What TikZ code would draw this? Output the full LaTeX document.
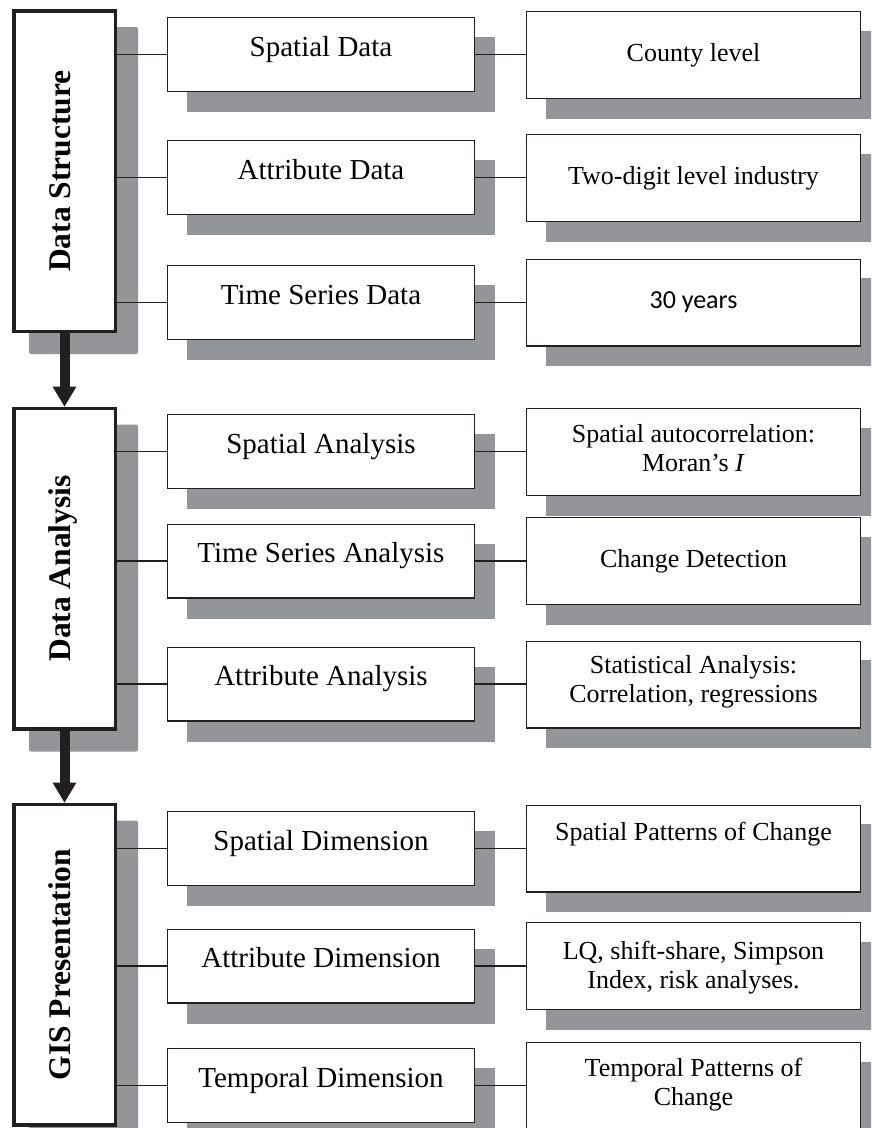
\documentclass[tikz,border=0pt]{standalone}
\usepackage{fontspec}
\setmainfont{Liberation Serif}
\newfontfamily\calfont{Carlito}
\usetikzlibrary{arrows.meta,calc,backgrounds}
\definecolor{shade}{HTML}{939598}
\definecolor{ink}{HTML}{231F20}
\newcommand{\twol}[2]{\begin{tabular}[t]{@{}c@{}}#1\\#2\end{tabular}}
\begin{document}
\begin{tikzpicture}[x=1pt,y=-1pt,
  lbox/.style={draw=ink, line width=3.5pt, fill=white, rotate=90, inner sep=0pt,
    minimum width=320.5pt, minimum height=101.5pt, text height=56.25pt, text depth=45.25pt,
    font=\fontsize{31.5}{36}\selectfont\bfseries},
  mbox/.style={draw=ink, line width=1.3pt, fill=white, inner sep=0pt,
    minimum width=306.7pt, minimum height=73.7pt, text height=38.35pt, text depth=35.35pt,
    font=\fontsize{29}{33}\selectfont},
  rbox/.style={draw=ink, line width=1.3pt, fill=white, inner sep=0pt,
    minimum width=333.7pt, minimum height=86.7pt, text height=49.35pt, text depth=37.35pt,
    font=\fontsize{26}{29}\selectfont},
  conn/.style={draw=ink, line width=1.3pt},
  bigarrow/.style={draw=ink, line width=10pt, -{Triangle[width=24pt,length=20pt,line width=0pt]}},
  shadowfill/.style={fill=shade}
]
\useasboundingbox (0,0) rectangle (871,1128);
\clip (0,0) rectangle (871,1128);

% left column
\node[lbox] (ds) at (64.5,171) {Data Structure};
\node[lbox] (da) at (64.5,568.5) {Data Analysis};
\node[lbox] (gis) at (64.5,964.5) {GIS Presentation};

% middle column
\node[mbox] (sd) at (321,54.5) {Spatial Data};
\node[mbox] (ad) at (321,177.5) {Attribute Data};
\node[mbox] (tsd) at (321,302.5) {Time Series Data};
\node[mbox] (sa) at (321,451.5) {Spatial Analysis};
\node[mbox] (tsa) at (321,561) {Time Series Analysis};
\node[mbox] (aa) at (321,684) {Attribute Analysis};
\node[mbox] (sdim) at (321,848.5) {Spatial Dimension};
\node[mbox] (adim) at (321,966) {Attribute Dimension};
\node[mbox] (tdim) at (321,1085.5) {Temporal Dimension};

% right column
\node[rbox] (cl) at (693.5,55) {County level};
\node[rbox] (tdl) at (693.5,178) {Two-digit level industry};
\node[rbox] (ty) at (693.5,302.5) {\calfont 30 years};
\node[rbox, text height=33.35pt, text depth=53.35pt] (sac) at (693.5,452) {\twol{Spatial autocorrelation:}{Moran’s \textit{I}}};
\node[rbox] (cd) at (693.5,561) {Change Detection};
\node[rbox, text height=32.35pt, text depth=54.35pt] (st) at (693.5,684.5) {\twol{Statistical Analysis:}{Correlation, regressions}};
\node[rbox, text height=35.35pt, text depth=51.35pt] (spc) at (693.5,848.5) {Spatial Patterns of Change};
\node[rbox, text height=36.35pt, text depth=50.35pt] (lq) at (693.5,966) {\twol{LQ, shift-share, Simpson}{Index, risk analyses.}};
\node[rbox, text height=33.35pt, text depth=53.35pt] (tpc) at (693.5,1086) {\twol{Temporal Patterns of}{Change}};

% shadows
\begin{scope}[on background layer]
  \fill[white] (0,0) rectangle (871,1128);
  \clip (0,0) rectangle (871,1128);
  \foreach \n in {ds,da,gis}
    \fill[shadowfill, rounded corners=2pt] ($(\n.north |- \n.east)+(17,18)$) rectangle ($(\n.south |- \n.west)+(21,21)$);
  \foreach \n in {sd,ad,tsd,sa,tsa,aa,sdim,adim,tdim}
    \fill[shadowfill] ($(\n.north west)+(19.5,20)$) rectangle ($(\n.south east)+(20,20)$);
  \foreach \n in {cl,tdl,ty,sac,cd,st,spc,lq,tpc}
    \fill[shadowfill] ($(\n.north west)+(20,19.5)$) rectangle ($(\n.south east)+(20,19.5)$);
\end{scope}

% connectors left -> middle
\foreach \p/\c in {ds/sd,ds/ad,ds/tsd,da/sa,da/tsa,da/aa,gis/sdim,gis/adim,gis/tdim}
  \draw[conn] (\p.south |- \c.west) -- (\c.west);
% connectors middle -> right
\foreach \c/\r in {sd/cl,ad/tdl,tsd/ty,sa/sac,tsa/cd,aa/st,sdim/spc,adim/lq,tdim/tpc}
  \draw[conn] (\c.east) -- (\c.east -| \r.west);

% flow arrows
\draw[bigarrow] (ds.west) -- (da.east);
\draw[bigarrow] (da.west) -- (gis.east);
\end{tikzpicture}
\end{document}
